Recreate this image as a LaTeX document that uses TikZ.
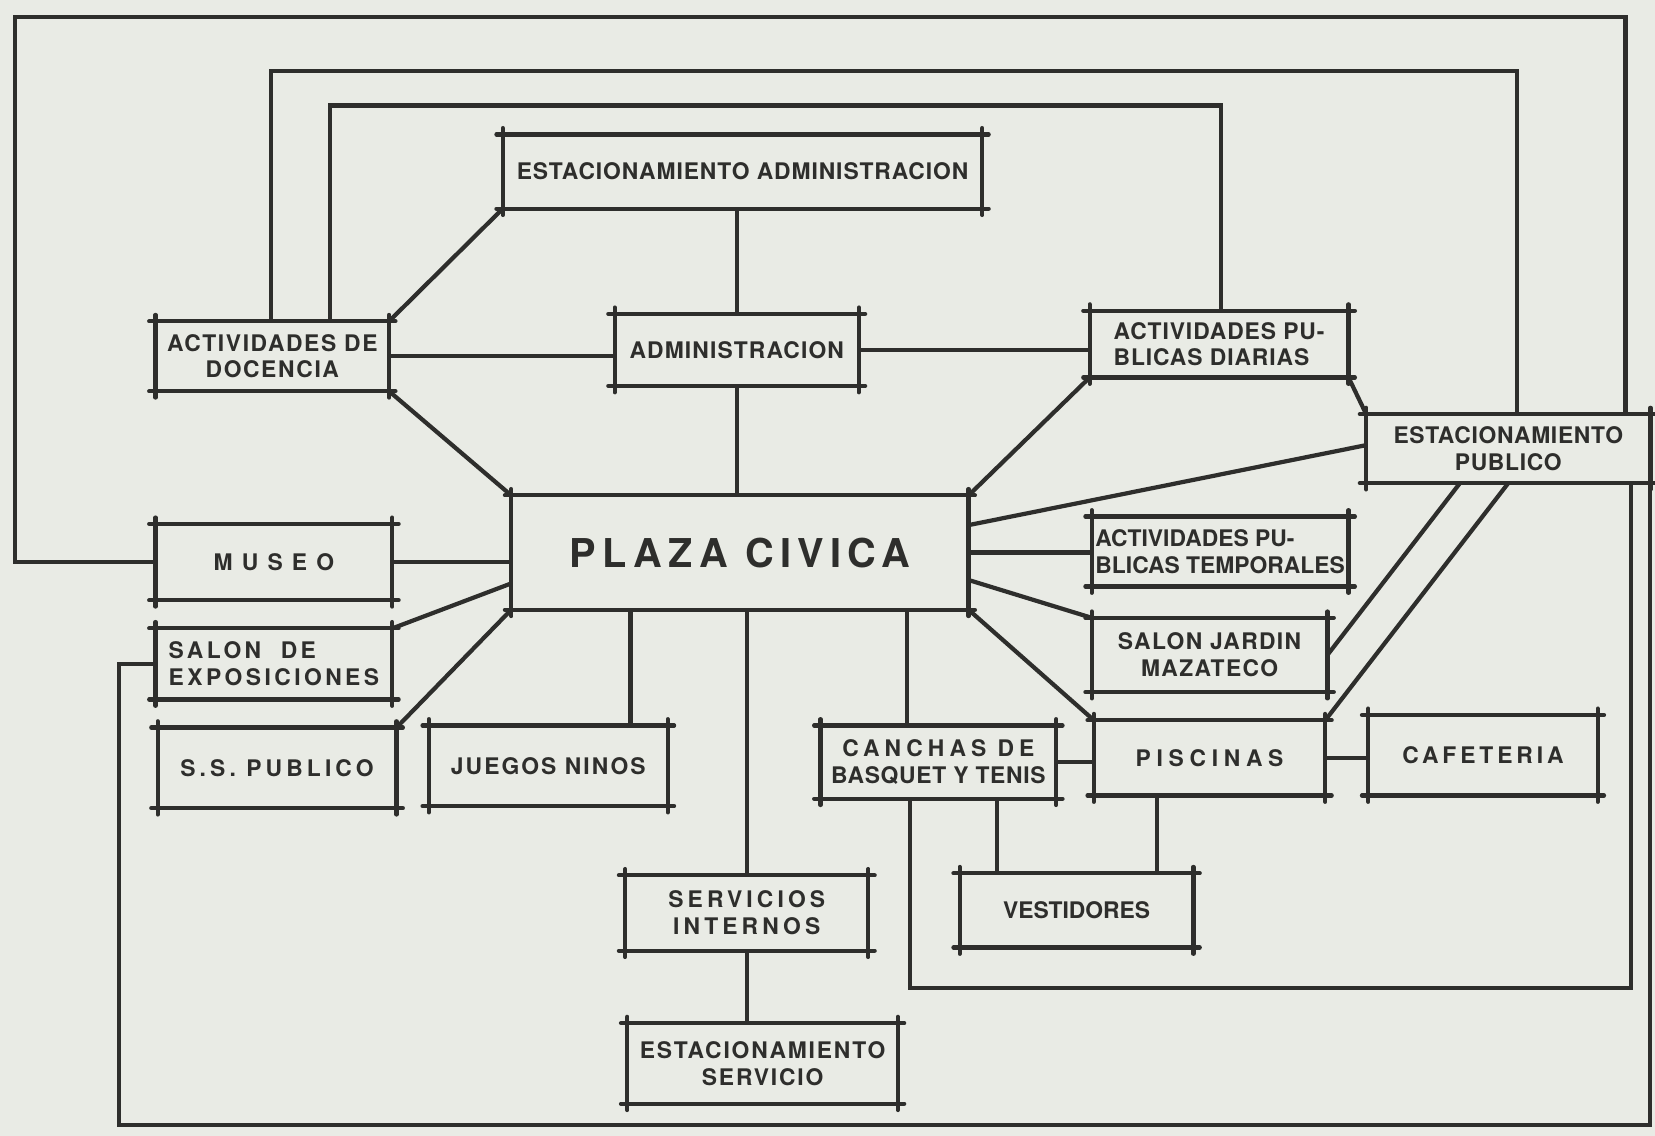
\documentclass[tikz,border=0pt]{standalone}
\usepackage{fontspec}
\setmainfont{TeX Gyre Heros}
\usepackage{tikz}
\usetikzlibrary{positioning, calc}
\definecolor{paper}{RGB}{233,235,229}
\definecolor{ink}{RGB}{46,46,44}
\newcommand{\labelfont}{\fontsize{6.5}{7.6}\selectfont\bfseries}
\tikzset{
  room/.style={rectangle, draw=none, fill=paper, inner sep=0pt, align=center,
    text=ink, font=\labelfont},
  dims/.style 2 args={minimum width=#1*0.10555mm, minimum height=#2*0.10555mm},
  tracking/.style={font=\labelfont\addfontfeatures{LetterSpace=#1}},
  edge/.style={draw=ink, line width=1.2pt, line cap=round,
    shorten <=-1.8pt, shorten >=-1.8pt},
  link/.style={draw=ink, line width=1.2pt, line join=miter}
}

\begin{document}
\begin{tikzpicture}[x=0.10555mm, y=-0.10555mm]
\fill[paper] (0,0) rectangle (1568,1076);
\useasboundingbox (0,0) rectangle (1568,1076);

% rooms, upper part
\node[room, dims={453}{69}, tracking=4] (estadm) at (703.5,162.5) {ESTACIONAMIENTO ADMINISTRACION};
\node[room, dims={220}{65}, tracking=7] (doc) at (258,337.5) {ACTIVIDADES DE\\DOCENCIA};
\node[room, dims={230}{67}, tracking=5] (admin) at (698,331.5) {ADMINISTRACION};
\node[room, dims={244}{62}, tracking=4, align=left] (apd) at (1155,326) {ACTIVIDADES PU-\\BLICAS DIARIAS};
\node[room, dims={268}{64}, tracking=3] (estpub) at (1429,425) {ESTACIONAMIENTO\\PUBLICO};

% plaza and the rooms round it
\node[room, dims={432}{107},
  font=\fontsize{11.3}{13}\selectfont\bfseries\addfontfeatures{LetterSpace=16}] (plaza) at (701,523.5) {PLAZA CIVICA};
\node[room, dims={223}{71}, tracking=40] (museo) at (259.5,532.5) {MUSEO};
\node[room, dims={242}{65}, align=left] (apt) at (1156,522.5) {ACTIVIDADES PU-\\BLICAS TEMPORALES};
\node[room, dims={223}{66}, tracking=15, align=left] (sex) at (259.5,629) {SALON~ DE\\EXPOSICIONES};
\node[room, dims={222}{69}, tracking=6] (sjm) at (1146,620.5) {SALON JARDIN\\MAZATECO};

% rooms, lower part
\node[room, dims={225}{75}, tracking=18] (ssp) at (262.5,727.5) {S.S. PUBLICO};
\node[room, dims={225}{75}, tracking=9] (juegos) at (519.5,725.5) {JUEGOS NINOS};
\node[room, dims={222}{68}, tracking=3]
  (canchas) at (889,722) {{\addfontfeatures{LetterSpace=22}CANCHAS DE}\\BASQUET Y TENIS};
\node[room, dims={218}{70}, tracking=25] (pisc) at (1146,718) {PISCINAS};
\node[room, dims={216}{75}, tracking=17] (cafe) at (1405,715.5) {CAFETERIA};
\node[room, dims={229}{70}, tracking=18] (servint) at (707.5,865) {SERVICIOS\\INTERNOS};
\node[room, dims={220}{69}] (vest) at (1020,862.5) {VESTIDORES};
\node[room, dims={255}{75}, tracking=8] (estserv) at (722.5,1007.5) {ESTACIONAMIENTO\\SERVICIO};

% hand drawn frames, edges run past the corners
\foreach \n in {estadm,doc,admin,apd,estpub,plaza,museo,apt,sex,sjm,
                ssp,juegos,canchas,pisc,cafe,servint,vest,estserv}{
  \draw[edge] (\n.north west) -- (\n.north east);
  \draw[edge] (\n.south west) -- (\n.south east);
  \draw[edge] (\n.north west) -- (\n.south west);
  \draw[edge] (\n.north east) -- (\n.south east);
}

% top block
\draw[link] (admin.north) -- (admin.north |- estadm.south);
\draw[link] (estadm.south west) -- (doc.north east);
\draw[link] (doc.east) -- (doc.east -| admin.west);
\draw[link] (admin.east) -- (admin.east -| apd.west);
\draw[link] (admin.south) -- (admin.south |- plaza.north);

% right of the plaza
\draw[link] (doc.south east) -- (plaza.north west);
\draw[link] (apd.south west) -- (plaza.north east);
\draw[link] (apd.south east) -- (estpub.north west);
\draw[link] ($(plaza.north east)!0.26!(plaza.south east)$) -- ($(estpub.north west)!0.45!(estpub.south west)$);
\draw[link] (plaza.east) -- (plaza.east -| apt.west);
\draw[link] ($(plaza.north east)!0.74!(plaza.south east)$) -- (sjm.north west);
\draw[link] (plaza.south east) -- (pisc.north west);
\draw[link] ($(estpub.south west)!0.33!(estpub.south east)$) -- (sjm.east);
\draw[link] (estpub.south) -- (pisc.north east);

% left of the plaza
\draw[link] (museo.east) -- (museo.east -| plaza.west);
\draw[link] (sex.north east) -- ($(plaza.north west)!0.77!(plaza.south west)$);
\draw[link] (ssp.north east) -- (plaza.south west);

% below the plaza
\draw[link] (juegos.north west) ++(191,0) coordinate (jn) -- (jn |- plaza.south);
\draw[link] (servint.north) -- (servint.north |- plaza.south);
\draw[link] (servint.south) -- (servint.south |- estserv.north);
\draw[link] (canchas.north west) ++(82,0) coordinate (cn) -- (cn |- plaza.south);
\draw[link] (canchas.east) -- (canchas.east -| pisc.west);
\draw[link] (pisc.east) -- (pisc.east -| cafe.west);
\draw[link] (canchas.south west) ++(167,0) coordinate (cv) -- (cv |- vest.north);
\draw[link] (pisc.south west) ++(60,0) coordinate (pv) -- (pv |- vest.north);

% long loops
\coordinate (da) at (257,67);
\coordinate (db) at (1437,67);
\coordinate (dc) at (313,100);
\coordinate (dd) at (1157,100);
\coordinate (ma) at (14,16);
\coordinate (mb) at (1540,16);
\coordinate (ca) at (1545,936);
\coordinate (cb) at (862,936);
\coordinate (sa) at (1563,1066);
\coordinate (sb) at (113,1066);
\draw[link] (doc.north -| da) -- (da) -- (db) -- (estpub.north -| db);
\draw[link] (doc.north -| dc) -- (dc) -- (dd) -- (apd.north -| dd);
\draw[link] (museo.west) -| (ma) -- (mb) -- (estpub.north -| mb);
\draw[link] (estpub.south -| ca) -- (ca) -- (cb) -- (canchas.south -| cb);
\draw[link] (estpub.south -| sa) -- (sa) -- (sb) |- (sex.west);
\end{tikzpicture}
\end{document}
